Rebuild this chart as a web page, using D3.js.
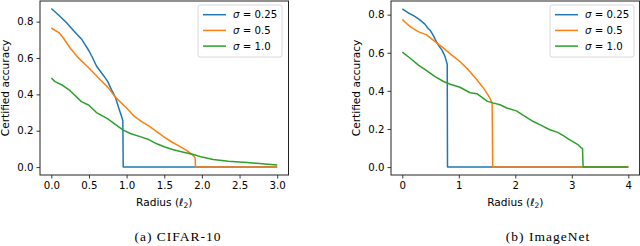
<!DOCTYPE html>
<html>
<head>
<meta charset="utf-8">
<script src="https://cdn.jsdelivr.net/npm/d3@7"></script>
<style>
  body { margin: 0; background: #fff; }
  svg { display: block; }
  .tick text { font-family: "DejaVu Sans", sans-serif; font-size: 10.2px; fill: #000; }
  .axis-label { font-family: "DejaVu Sans", sans-serif; font-size: 10.6px; fill: #000; }
  .legend text { font-family: "DejaVu Sans", sans-serif; font-size: 10.2px; fill: #000; }
  .caption { font-family: "Liberation Serif", serif; font-size: 13.5px; letter-spacing: 1px; fill: #000; }
</style>
</head>
<body>
<div id="chart"></div>
<script>
// series labels and colours
var sigmas = ["0.25", "0.5", "1.0"];
var colors = ["#1f77b4", "#ff7f0e", "#2ca02c"];

// CIFAR-10 curves, [radius, certified accuracy]
var cifar025 = [[0,0.872],[0.1,0.835],[0.2,0.795],[0.3,0.748],[0.4,0.705],[0.5,0.64],[0.55,0.6],
  [0.6,0.556],[0.7,0.5],[0.75,0.47],[0.8,0.425],[0.85,0.385],[0.9,0.32],[0.94,0.27],[0.95,0.255],
  [0.955,0],[3.0,0]];
var cifar05 = [[0,0.765],[0.1,0.74],[0.16,0.71],[0.25,0.655],[0.35,0.605],[0.5,0.545],[0.65,0.48],
  [0.75,0.44],[0.85,0.385],[1.0,0.325],[1.1,0.28],[1.2,0.25],[1.3,0.225],[1.4,0.195],[1.5,0.165],
  [1.6,0.138],[1.7,0.115],[1.8,0.09],[1.87,0.07],[1.9,0.056],[1.91,0.05],[1.915,0],[3.0,0]];
var cifar10 = [[0,0.49],[0.05,0.47],[0.15,0.45],[0.25,0.42],[0.4,0.36],[0.5,0.34],[0.6,0.3],
  [0.75,0.265],[0.85,0.235],[0.95,0.205],[1.05,0.185],[1.2,0.165],[1.3,0.15],[1.4,0.128],[1.5,0.112],
  [1.6,0.098],[1.7,0.087],[1.8,0.078],[1.9,0.068],[2.0,0.055],[2.15,0.042],[2.35,0.032],[2.6,0.025],
  [2.8,0.018],[3.0,0.012]];

// ImageNet curves
var imnet025 = [[0,0.83],[0.1,0.81],[0.2,0.795],[0.3,0.775],[0.4,0.75],[0.45,0.73],[0.5,0.715],
  [0.55,0.69],[0.6,0.66],[0.65,0.635],[0.7,0.615],[0.75,0.585],[0.78,0.555],[0.795,0.54],[0.8,0],[4.0,0]];
var imnet05 = [[0,0.775],[0.05,0.76],[0.14,0.737],[0.28,0.711],[0.43,0.694],[0.58,0.658],[0.73,0.624],
  [0.87,0.589],[1.02,0.554],[1.17,0.51],[1.32,0.458],[1.46,0.405],[1.55,0.362],[1.59,0.335],[1.6,0],[4.0,0]];
var imnet10 = [[0,0.603],[0.14,0.571],[0.28,0.536],[0.43,0.506],[0.58,0.475],[0.73,0.449],[0.85,0.435],
  [1.02,0.419],[1.2,0.39],[1.32,0.385],[1.5,0.346],[1.6,0.337],[1.73,0.327],[1.85,0.31],[2.02,0.295],
  [2.15,0.27],[2.32,0.239],[2.45,0.22],[2.61,0.196],[2.75,0.182],[2.85,0.165],[2.95,0.145],[3.05,0.128],
  [3.12,0.115],[3.17,0.1],[3.19,0.098],[3.2,0],[4.0,0]];

// tick values
var cifarXTicks = [0, 0.5, 1.0, 1.5, 2.0, 2.5, 3.0];
var imnetXTicks = [0, 1, 2, 3, 4];
var yTicks = [0, 0.2, 0.4, 0.6, 0.8];

var panels = [
  { series: [cifar025, cifar05, cifar10], xDomain: [-0.15, 3.15], yDomain: [-0.0435, 0.9135],
    left: 40, right: 288.5, top: 1, bottom: 175, xTicks: cifarXTicks, xFmt: d3.format(".1f"),
    legendX: 198, caption: "(a) CIFAR-10", captionX: 178, ylabX: 8.5 },
  { series: [imnet025, imnet05, imnet10], xDomain: [-0.2, 4.2], yDomain: [-0.0415, 0.8715],
    left: 391, right: 639.6, top: 1, bottom: 175, xTicks: imnetXTicks, xFmt: d3.format("d"),
    legendX: 550, caption: "(b) ImageNet", captionX: 548, ylabX: 359.5 }
];

var svg = d3.select("#chart").append("svg")
  .attr("width", 640)
  .attr("height", 246);

panels.forEach(function(p) {
  var x = d3.scaleLinear().domain(p.xDomain).range([p.left, p.right]);
  var y = d3.scaleLinear().domain(p.yDomain).range([p.bottom, p.top]);

  var line = d3.line()
    .x(function(d) { return x(d[0]); })
    .y(function(d) { return y(d[1]); });

  var g = svg.append("g");

  g.append("defs").append("clipPath")
    .attr("id", "clip" + p.left)
    .append("rect")
    .attr("x", p.left).attr("y", p.top)
    .attr("width", p.right - p.left).attr("height", p.bottom - p.top);

  var lines = g.append("g").attr("clip-path", "url(#clip" + p.left + ")");
  p.series.forEach(function(s, i) {
    lines.append("path")
      .datum(s)
      .attr("fill", "none")
      .attr("stroke", colors[i])
      .attr("stroke-width", 1.5)
      .attr("stroke-linejoin", "round")
      .attr("d", line);
  });

  // axes
  var xAx = g.append("g")
    .attr("transform", "translate(0," + p.bottom + ")")
    .call(d3.axisBottom(x).tickValues(p.xTicks).tickFormat(p.xFmt).tickSizeInner(3.5).tickSizeOuter(0).tickPadding(3));
  var yAx = g.append("g")
    .attr("transform", "translate(" + p.left + ",0)")
    .call(d3.axisLeft(y).tickValues(yTicks).tickFormat(d3.format(".1f")).tickSizeInner(3.5).tickSizeOuter(0).tickPadding(3));
  [xAx, yAx].forEach(function(a) {
    a.select(".domain").remove();
    a.selectAll(".tick line").attr("stroke", "#222").attr("stroke-width", 0.9);
    a.attr("font-family", null).attr("font-size", null);
  });

  // frame
  g.append("rect")
    .attr("x", p.left).attr("y", p.top)
    .attr("width", p.right - p.left).attr("height", p.bottom - p.top)
    .attr("fill", "none").attr("stroke", "#222").attr("stroke-width", 1);

  // axis labels
  var xl = g.append("text")
    .attr("class", "axis-label")
    .attr("x", (p.left + p.right) / 2).attr("y", 205.5)
    .attr("text-anchor", "middle");
  xl.append("tspan").text("Radius (");
  xl.append("tspan").attr("font-style", "italic").text("\u2113");
  xl.append("tspan").attr("font-size", "7.5px").attr("dy", 2).text("2");
  xl.append("tspan").attr("dy", -2).text(")");

  g.append("text")
    .attr("class", "axis-label")
    .attr("transform", "translate(" + p.ylabX + "," + ((p.top + p.bottom) / 2) + ") rotate(-90)")
    .attr("text-anchor", "middle")
    .text("Certified accuracy");

  // legend
  var leg = g.append("g").attr("class", "legend");
  leg.append("rect")
    .attr("x", p.legendX).attr("y", 5)
    .attr("width", 84).attr("height", 52)
    .attr("rx", 2)
    .attr("fill", "#fff").attr("fill-opacity", 0.8)
    .attr("stroke", "#d0d0d0").attr("stroke-width", 0.8);
  sigmas.forEach(function(s, i) {
    var cy = 14.7 + i * 15.7;
    leg.append("line")
      .attr("x1", p.legendX + 5).attr("x2", p.legendX + 28)
      .attr("y1", cy).attr("y2", cy)
      .attr("stroke", colors[i]).attr("stroke-width", 1.5);
    var t = leg.append("text").attr("x", p.legendX + 35).attr("y", cy + 3.6);
    t.append("tspan").attr("font-style", "italic").text("\u03c3");
    t.append("tspan").text(" = " + s);
  });

  // caption
  g.append("text")
    .attr("class", "caption")
    .attr("x", p.captionX).attr("y", 241)
    .attr("text-anchor", "middle")
    .text(p.caption);
});
</script>
</body>
</html>
